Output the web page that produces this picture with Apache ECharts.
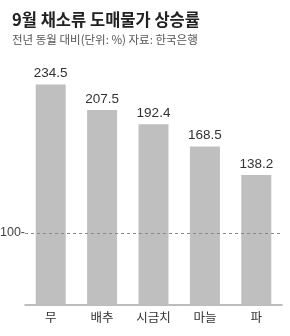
<!DOCTYPE html>
<html>
<head>
<meta charset="utf-8">
<script src="https://cdn.jsdelivr.net/npm/echarts@6/dist/echarts.min.js"></script>
<style>
  html, body { margin: 0; padding: 0; background: #fff; }
  #chart { width: 290px; height: 336px; }
</style>
</head>
<body>
<div id="chart"></div>
<script>
  // 9월 채소류 도매물가 상승률 (전년 동월 대비, %)
  const categories = ['무', '배추', '시금치', '마늘', '파']
  const values = [234.5, 207.5, 192.4, 168.5, 138.2]
  // the "100" guide in the original graphic sits lower than the bar scale,
  // so its drawn position and its label are kept apart
  const guideLabel = '100'
  const guidePosition = 76.6

  const chart = echarts.init(document.getElementById('chart'), null, { renderer: 'canvas' })
  const krFont = '"Noto Sans CJK KR", "Noto Sans", sans-serif'
  const numFont = '"Liberation Sans", Arial, sans-serif'

  chart.setOption({
    animation: false,
    backgroundColor: '#fff',
    title: {
      text: '9월 채소류 도매물가 상승률',
      subtext: '전년 동월 대비(단위: %) 자료: 한국은행',
      left: 7,
      top: 6,
      itemGap: 6,
      textStyle: {
        fontFamily: krFont,
        fontSize: 16.5,
        fontWeight: 'bold',
        color: '#222',
      },
      subtextStyle: {
        fontFamily: krFont,
        fontSize: 11.5,
        color: '#555',
      },
    },
    grid: {
      left: 25,
      right: 8,
      top: 70,
      bottom: 31,
    },
    xAxis: {
      type: 'category',
      data: categories,
      axisTick: { show: false },
      axisLine: {
        lineStyle: { color: '#a6a6a6', width: 1.5 },
      },
      axisLabel: {
        margin: 6,
        fontFamily: krFont,
        fontSize: 12.5,
        color: '#333',
      },
    },
    yAxis: {
      type: 'value',
      min: 0,
      max: 250,
      show: false,
      splitLine: { show: false },
    },
    series: [
      {
        // carrier for the dashed guide, drawn under the bars
        type: 'line',
        data: [],
        z: 1,
        markLine: {
          silent: true,
          symbol: 'none',
          data: [{ yAxis: guidePosition }],
          lineStyle: {
            color: '#888',
            type: [3, 3],
            width: 1,
          },
          label: {
            position: 'start',
            distance: 0,
            formatter: guideLabel + '-',
            fontFamily: numFont,
            fontSize: 12.5,
            color: '#444',
          },
        },
      },
      {
        type: 'bar',
        data: values,
        barWidth: 30,
        z: 2,
        itemStyle: { color: '#bfbfbf' },
        label: {
          show: true,
          position: 'top',
          distance: 4,
          fontFamily: numFont,
          fontSize: 13.5,
          color: '#333',
          formatter: (p) => p.value.toFixed(1),
        },
      },
    ],
  })
</script>
</body>
</html>
